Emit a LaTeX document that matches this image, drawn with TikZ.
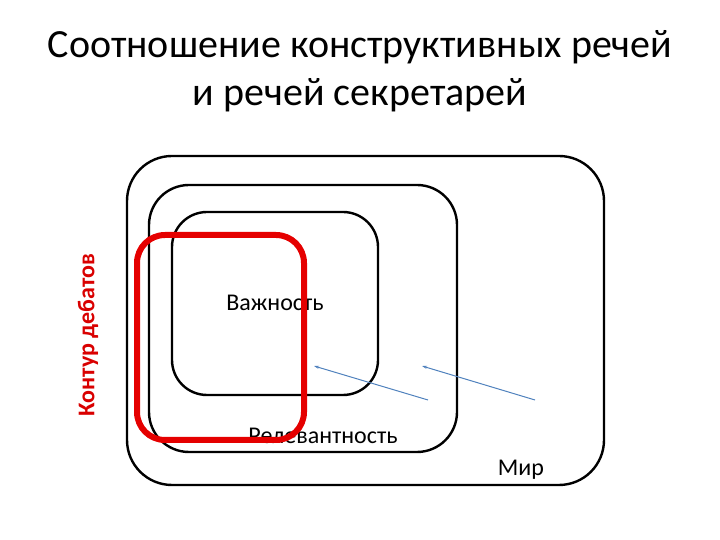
\documentclass[tikz,border=0pt]{standalone}
\usepackage{fontspec}
\setmainfont{Carlito}
\usetikzlibrary{arrows.meta}
\definecolor{steel}{RGB}{79,129,189}
\tikzset{
  zone/.style={draw, line width=2.4pt, rounded corners=#1, inner sep=0pt},
  debate/.style={draw=red!90!black, line width=6pt, rounded corners=28pt, inner sep=0pt},
  label/.style={font=\fontsize{24}{29}\selectfont},
  push/.style={draw=steel, line width=1pt, -{Stealth[length=5pt,width=3pt]}}
}
\begin{document}
\begin{tikzpicture}[x=1pt, y=1pt]
  \useasboundingbox (0,0) rectangle (720,540);

  % Title
  \node (title) [align=center, font=\fontsize{40}{48}\selectfont] at (360,469)
    {Соотношение конструктивных речей\\и речей секретарей};

  % Nested zones
  \node (world) [zone=45pt, minimum width=477pt, minimum height=329pt] at (365.5,219.5) {};
  \node (relevance) [zone=40pt, minimum width=308pt, minimum height=267pt] at (303,221.5) {};
  \node (importance) [zone=35pt, minimum width=206pt, minimum height=183pt] at (275,236.5) {};

  % Labels
  \node (importancetext) [label] at (275,237) {Важность};
  \node (relevancetext) [label] at (323,104) {Релевантность};
  \node (worldtext) [label] at (521,70) {Мир};
  \node (debatetext) [font=\fontsize{24}{29}\selectfont\bfseries, text=red!85!black, rotate=90] at (88,205) {Контур дебатов};

  % Debate contour on top
  \node (contour) [debate, minimum width=167pt, minimum height=205pt] at (220.5,202.5) {};

  % Arrows
  \coordinate (a1) at (428,140);
  \coordinate (b1) at (314,174);
  \coordinate (a2) at (535,140);
  \coordinate (b2) at (422,174);
  \draw [push] (a1) -- (b1);
  \draw [push] (a2) -- (b2);
\end{tikzpicture}
\end{document}
